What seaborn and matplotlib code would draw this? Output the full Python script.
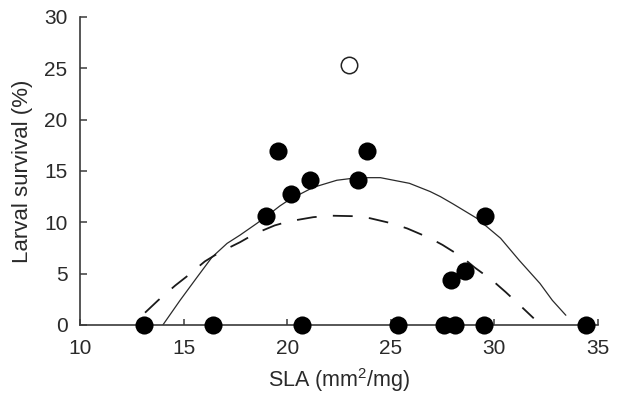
import pandas as pd
import matplotlib.pyplot as plt
import seaborn as sns

sns.set_theme(style="ticks")
plt.rcParams['font.family'] = ['Liberation Sans', 'DejaVu Sans']
plt.rcParams['mathtext.fontset'] = 'custom'
plt.rcParams['mathtext.rm'] = 'Liberation Sans'
plt.rcParams['mathtext.it'] = 'Liberation Sans'

cinza = '#3a3a3a'

# pontos observados (SLA, sobrevivencia)
sla = [13.1, 16.4, 20.7, 25.35, 27.55, 28.1, 29.5, 34.4,
       19.0, 19.55, 20.2, 21.1, 23.4, 23.85, 29.55, 28.6, 27.9]
sobrev = [0, 0, 0, 0, 0, 0, 0, 0,
          10.6, 16.9, 12.8, 14.1, 14.1, 16.9, 10.6, 5.3, 4.4]

# ponto excluido (aberto)
sla_out = [23.0]
sobrev_out = [25.3]

# curva ajustada (linha cheia)
curva_x = [14.0, 14.83, 15.65, 16.37, 17.1, 17.72, 18.54, 19.17, 19.65,
           20.1, 21.25, 22.4, 23.4, 24.5, 25.9, 26.9, 27.4, 28.0, 29.15,
           30.3, 31.2, 32.2, 32.8, 33.45]
curva_y = [0.0, 2.4, 4.65, 6.6, 7.95, 8.75, 9.9, 10.85, 11.6,
           12.2, 13.4, 14.1, 14.35, 14.35, 13.8, 13.0, 12.5, 11.8, 10.4,
           8.45, 6.3, 4.05, 2.4, 0.95]

# curva ajustada (tracejada)
tracejada_x = [13.14, 13.77, 14.6, 15.2, 16.03, 16.76, 17.72, 18.45, 19.4,
               20.1, 21.25, 22.05, 23.2, 24.0, 25.05, 25.8, 26.9, 27.5,
               28.45, 29.05, 29.9, 30.55, 31.35, 31.9]
tracejada_y = [1.2, 2.4, 3.85, 4.8, 6.2, 7.1, 8.06, 8.9, 9.7,
               10.1, 10.5, 10.65, 10.6, 10.4, 9.9, 9.4, 8.45, 7.8,
               6.6, 5.6, 4.35, 3.2, 1.7, 0.65]

df = pd.DataFrame({'SLA': sla, 'Surv': sobrev})
df_out = pd.DataFrame({'SLA': sla_out, 'Surv': sobrev_out})
df_cheia = pd.DataFrame({'x': curva_x, 'y': curva_y})
df_trac = pd.DataFrame({'x': tracejada_x, 'y': tracejada_y})

fig = plt.figure(figsize=(6.19, 4.0), dpi=100)
ax = fig.add_axes([0.1292, 0.1875, 0.8368, 0.77])

sns.lineplot(data=df_cheia, x='x', y='y', ax=ax, color='#2a2a2a',
             linewidth=0.9, sort=False, estimator=None)
sns.lineplot(data=df_trac, x='x', y='y', ax=ax, color='#1a1a1a',
             linewidth=1.3, sort=False, estimator=None,
             linestyle=(0, (11, 9)))
sns.scatterplot(data=df, x='SLA', y='Surv', ax=ax, color='black', s=170,
                edgecolor='black', linewidth=0, clip_on=False, zorder=5)
sns.scatterplot(data=df_out, x='SLA', y='Surv', ax=ax, color='white', s=140,
                edgecolor='#222222', linewidth=1.1, clip_on=False, zorder=5)

ax.set_xlim(10, 35)
ax.set_ylim(0, 30)
ax.set_xticks([10, 15, 20, 25, 30, 35])
ax.set_yticks([0, 5, 10, 15, 20, 25, 30])

sns.despine(ax=ax)
for s in ['left', 'bottom']:
    ax.spines[s].set_color(cinza)
    ax.spines[s].set_linewidth(1.2)

ax.tick_params(axis='x', direction='in', length=4, width=1.1, color=cinza,
               labelsize=15, labelcolor='#2a2a2a', pad=10)
ax.tick_params(axis='y', direction='in', length=5, width=1.1, color=cinza,
               labelsize=15, labelcolor='#2a2a2a', pad=9)

ax.set_xlabel('SLA (mm$^{2}$/mg)', fontsize=15.5, color='#2a2a2a', labelpad=6)
ax.set_ylabel('Larval survival (%)', fontsize=16, color='#2a2a2a', labelpad=8)

fig.savefig('out.png', dpi=100)
